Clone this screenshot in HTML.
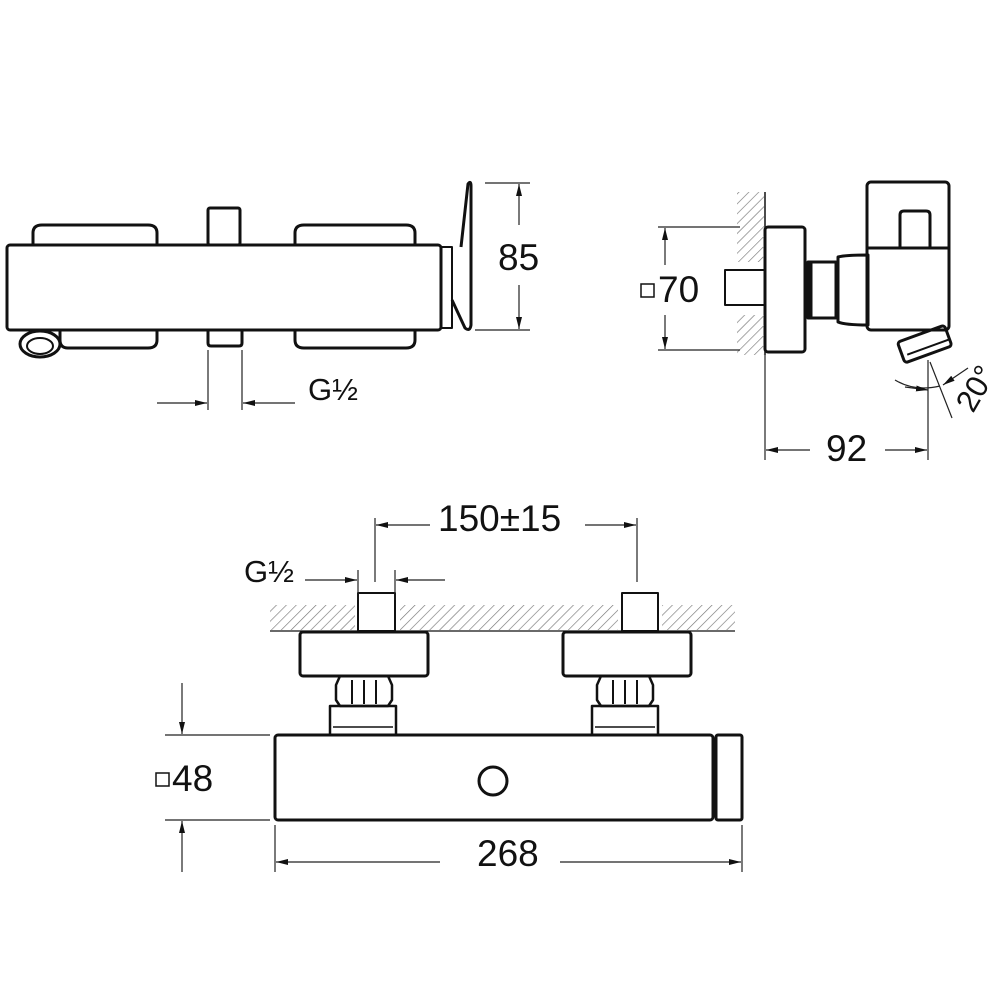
<!DOCTYPE html>
<html><head><meta charset="utf-8"><style>
html,body{margin:0;padding:0;background:#fff}
svg{display:block}
text{font-family:"Liberation Sans",sans-serif;fill:#111}
</style></head><body>
<svg width="1000" height="1000" viewBox="0 0 1000 1000" xmlns="http://www.w3.org/2000/svg">
<defs>
<pattern id="h" width="7" height="7" patternUnits="userSpaceOnUse" patternTransform="rotate(45)">
<line x1="0" y1="0" x2="0" y2="7" stroke="#777" stroke-width="1.3"/>
</pattern>
<marker id="a" markerWidth="12" markerHeight="8" refX="12" refY="4" orient="auto" markerUnits="userSpaceOnUse">
<path d="M0,1 L12,4 L0,7 Z" fill="#111"/></marker>
</defs>
<g fill="none" stroke="#111" stroke-width="3" stroke-linejoin="round">
<path d="M33,245 V233 Q33,225 42,225 H148 Q157,225 157,233 V245"/>
<path d="M295,245 V233 Q295,225 304,225 H406 Q415,225 415,233 V245"/>
<rect x="208" y="208" width="32" height="37" rx="2"/>
<path d="M60,330 V340 Q60,348 68,348 H148 Q157,348 157,340 V330"/>
<path d="M295,330 V340 Q295,348 304,348 H406 Q415,348 415,340 V330"/>
<path d="M208,330 V343 Q208,346 211,346 H239 Q242,346 242,343 V330"/>
<rect x="7" y="245" width="434" height="85" rx="3"/>
<path d="M441,247 H452 V328 H441" stroke-width="2"/>
<path d="M461,247 L468,184 Q471,180 471,186 L471,325 Q470,332 465,328 L452,300"/>
<ellipse cx="40" cy="344" rx="20" ry="13"/>
<ellipse cx="40" cy="346" rx="13" ry="8" stroke-width="2"/>
<rect x="725" y="270" width="40" height="35" stroke-width="2"/>
<rect x="765" y="227" width="40" height="125" rx="3"/>
<path d="M808,262 H836 V318 H808 Z"/>
<line x1="810" y1="262" x2="810" y2="318" stroke-width="5"/>
<path d="M838,257 Q845,255 868,255 V325 Q845,325 838,322 Z"/>
<rect x="867" y="182" width="82" height="148" rx="4"/>
<line x1="868" y1="248" x2="949" y2="248"/>
<path d="M900,248 V215 Q900,211 904,211 H926 Q930,211 930,215 V248"/>
<g transform="rotate(-20 925 345)">
<rect x="900" y="333" width="50" height="22" rx="3"/>
<line x1="905" y1="348" x2="950" y2="348" stroke-width="2"/>
</g>
<rect x="358" y="593" width="37" height="38" stroke-width="2"/>
<rect x="622" y="593" width="36" height="38" stroke-width="2"/>
<rect x="300" y="632" width="128" height="44" rx="3"/>
<rect x="563" y="632" width="128" height="44" rx="3"/>
<path d="M340,676 L336,685 V700 L340,706 H388 L392,700 V685 L388,676 Z" stroke-width="2.5"/>
<path d="M601,676 L597,685 V700 L601,706 H649 L653,700 V685 L649,676 Z" stroke-width="2.5"/>
<path d="M352,680 V704 M364,680 V704 M376,680 V704 M613,680 V704 M625,680 V704 M637,680 V704" stroke-width="2"/>
<rect x="330" y="706" width="66" height="29" stroke-width="2.5"/>
<rect x="592" y="706" width="66" height="29" stroke-width="2.5"/>
<line x1="333" y1="727" x2="393" y2="727" stroke-width="1.5"/>
<line x1="595" y1="727" x2="655" y2="727" stroke-width="1.5"/>
<rect x="275" y="735" width="438" height="85" rx="3"/>
<rect x="716" y="735" width="26" height="85" rx="2"/>
<circle cx="493" cy="781" r="14"/>
</g>
<rect x="737" y="192" width="27" height="70" fill="url(#h)"/>
<rect x="737" y="315" width="27" height="40" fill="url(#h)"/>
<line x1="765" y1="192" x2="765" y2="355" stroke="#111" stroke-width="1.5"/>
<rect x="270" y="605" width="85" height="25" fill="url(#h)"/>
<rect x="400" y="605" width="218" height="25" fill="url(#h)"/>
<rect x="662" y="605" width="73" height="25" fill="url(#h)"/>
<line x1="270" y1="631" x2="735" y2="631" stroke="#111" stroke-width="1.2"/>
<g stroke="#222" stroke-width="1.2" fill="none">
<line x1="485" y1="183" x2="530" y2="183"/><line x1="475" y1="330" x2="530" y2="330"/>
<line x1="519" y1="225" x2="519" y2="184" marker-end="url(#a)"/>
<line x1="519" y1="285" x2="519" y2="329" marker-end="url(#a)"/>
<line x1="208" y1="350" x2="208" y2="410"/><line x1="242" y1="350" x2="242" y2="410"/>
<line x1="157" y1="403" x2="207" y2="403" marker-end="url(#a)"/>
<line x1="295" y1="403" x2="243" y2="403" marker-end="url(#a)"/>
<line x1="658" y1="227" x2="740" y2="227"/><line x1="658" y1="350" x2="740" y2="350"/>
<line x1="665" y1="265" x2="665" y2="228" marker-end="url(#a)"/>
<line x1="665" y1="315" x2="665" y2="349" marker-end="url(#a)"/>
<line x1="765" y1="355" x2="765" y2="460"/><line x1="928" y1="360" x2="928" y2="460"/>
<line x1="810" y1="450" x2="766" y2="450" marker-end="url(#a)"/>
<line x1="885" y1="450" x2="927" y2="450" marker-end="url(#a)"/>
<line x1="930" y1="362" x2="952" y2="418"/>
<path d="M895,380 Q915,392 940,386"/>
<line x1="905" y1="387" x2="928" y2="390" marker-end="url(#a)"/>
<line x1="968" y1="368" x2="943" y2="385" marker-end="url(#a)"/>
<line x1="375" y1="518" x2="375" y2="582"/><line x1="637" y1="518" x2="637" y2="582"/>
<line x1="430" y1="525" x2="376" y2="525" marker-end="url(#a)"/>
<line x1="585" y1="525" x2="636" y2="525" marker-end="url(#a)"/>
<line x1="358" y1="570" x2="358" y2="600"/><line x1="395" y1="570" x2="395" y2="600"/>
<line x1="305" y1="580" x2="357" y2="580" marker-end="url(#a)"/>
<line x1="445" y1="580" x2="396" y2="580" marker-end="url(#a)"/>
<line x1="165" y1="735" x2="270" y2="735"/><line x1="165" y1="820" x2="270" y2="820"/>
<line x1="182" y1="683" x2="182" y2="734" marker-end="url(#a)"/>
<line x1="182" y1="872" x2="182" y2="821" marker-end="url(#a)"/>
<line x1="275" y1="825" x2="275" y2="872"/><line x1="742" y1="825" x2="742" y2="872"/>
<line x1="440" y1="862" x2="276" y2="862" marker-end="url(#a)"/>
<line x1="560" y1="862" x2="741" y2="862" marker-end="url(#a)"/>
</g>
<g font-size="37">
<text x="498" y="270">85</text>
<text x="308" y="400" font-size="31">G½</text>
<text x="658" y="302">70</text>
<rect x="641" y="284" width="13" height="13" fill="none" stroke="#111" stroke-width="1.5"/>
<text x="826" y="461">92</text>
<text x="0" y="0" font-size="31" transform="translate(973,414) rotate(-60)">20°</text>
<text x="438" y="531">150±15</text>
<text x="244" y="582" font-size="31">G½</text>
<rect x="156" y="773" width="13" height="13" fill="none" stroke="#111" stroke-width="1.5"/>
<text x="172" y="791">48</text>
<text x="477" y="866">268</text>
</g>
</svg>
</body></html>
